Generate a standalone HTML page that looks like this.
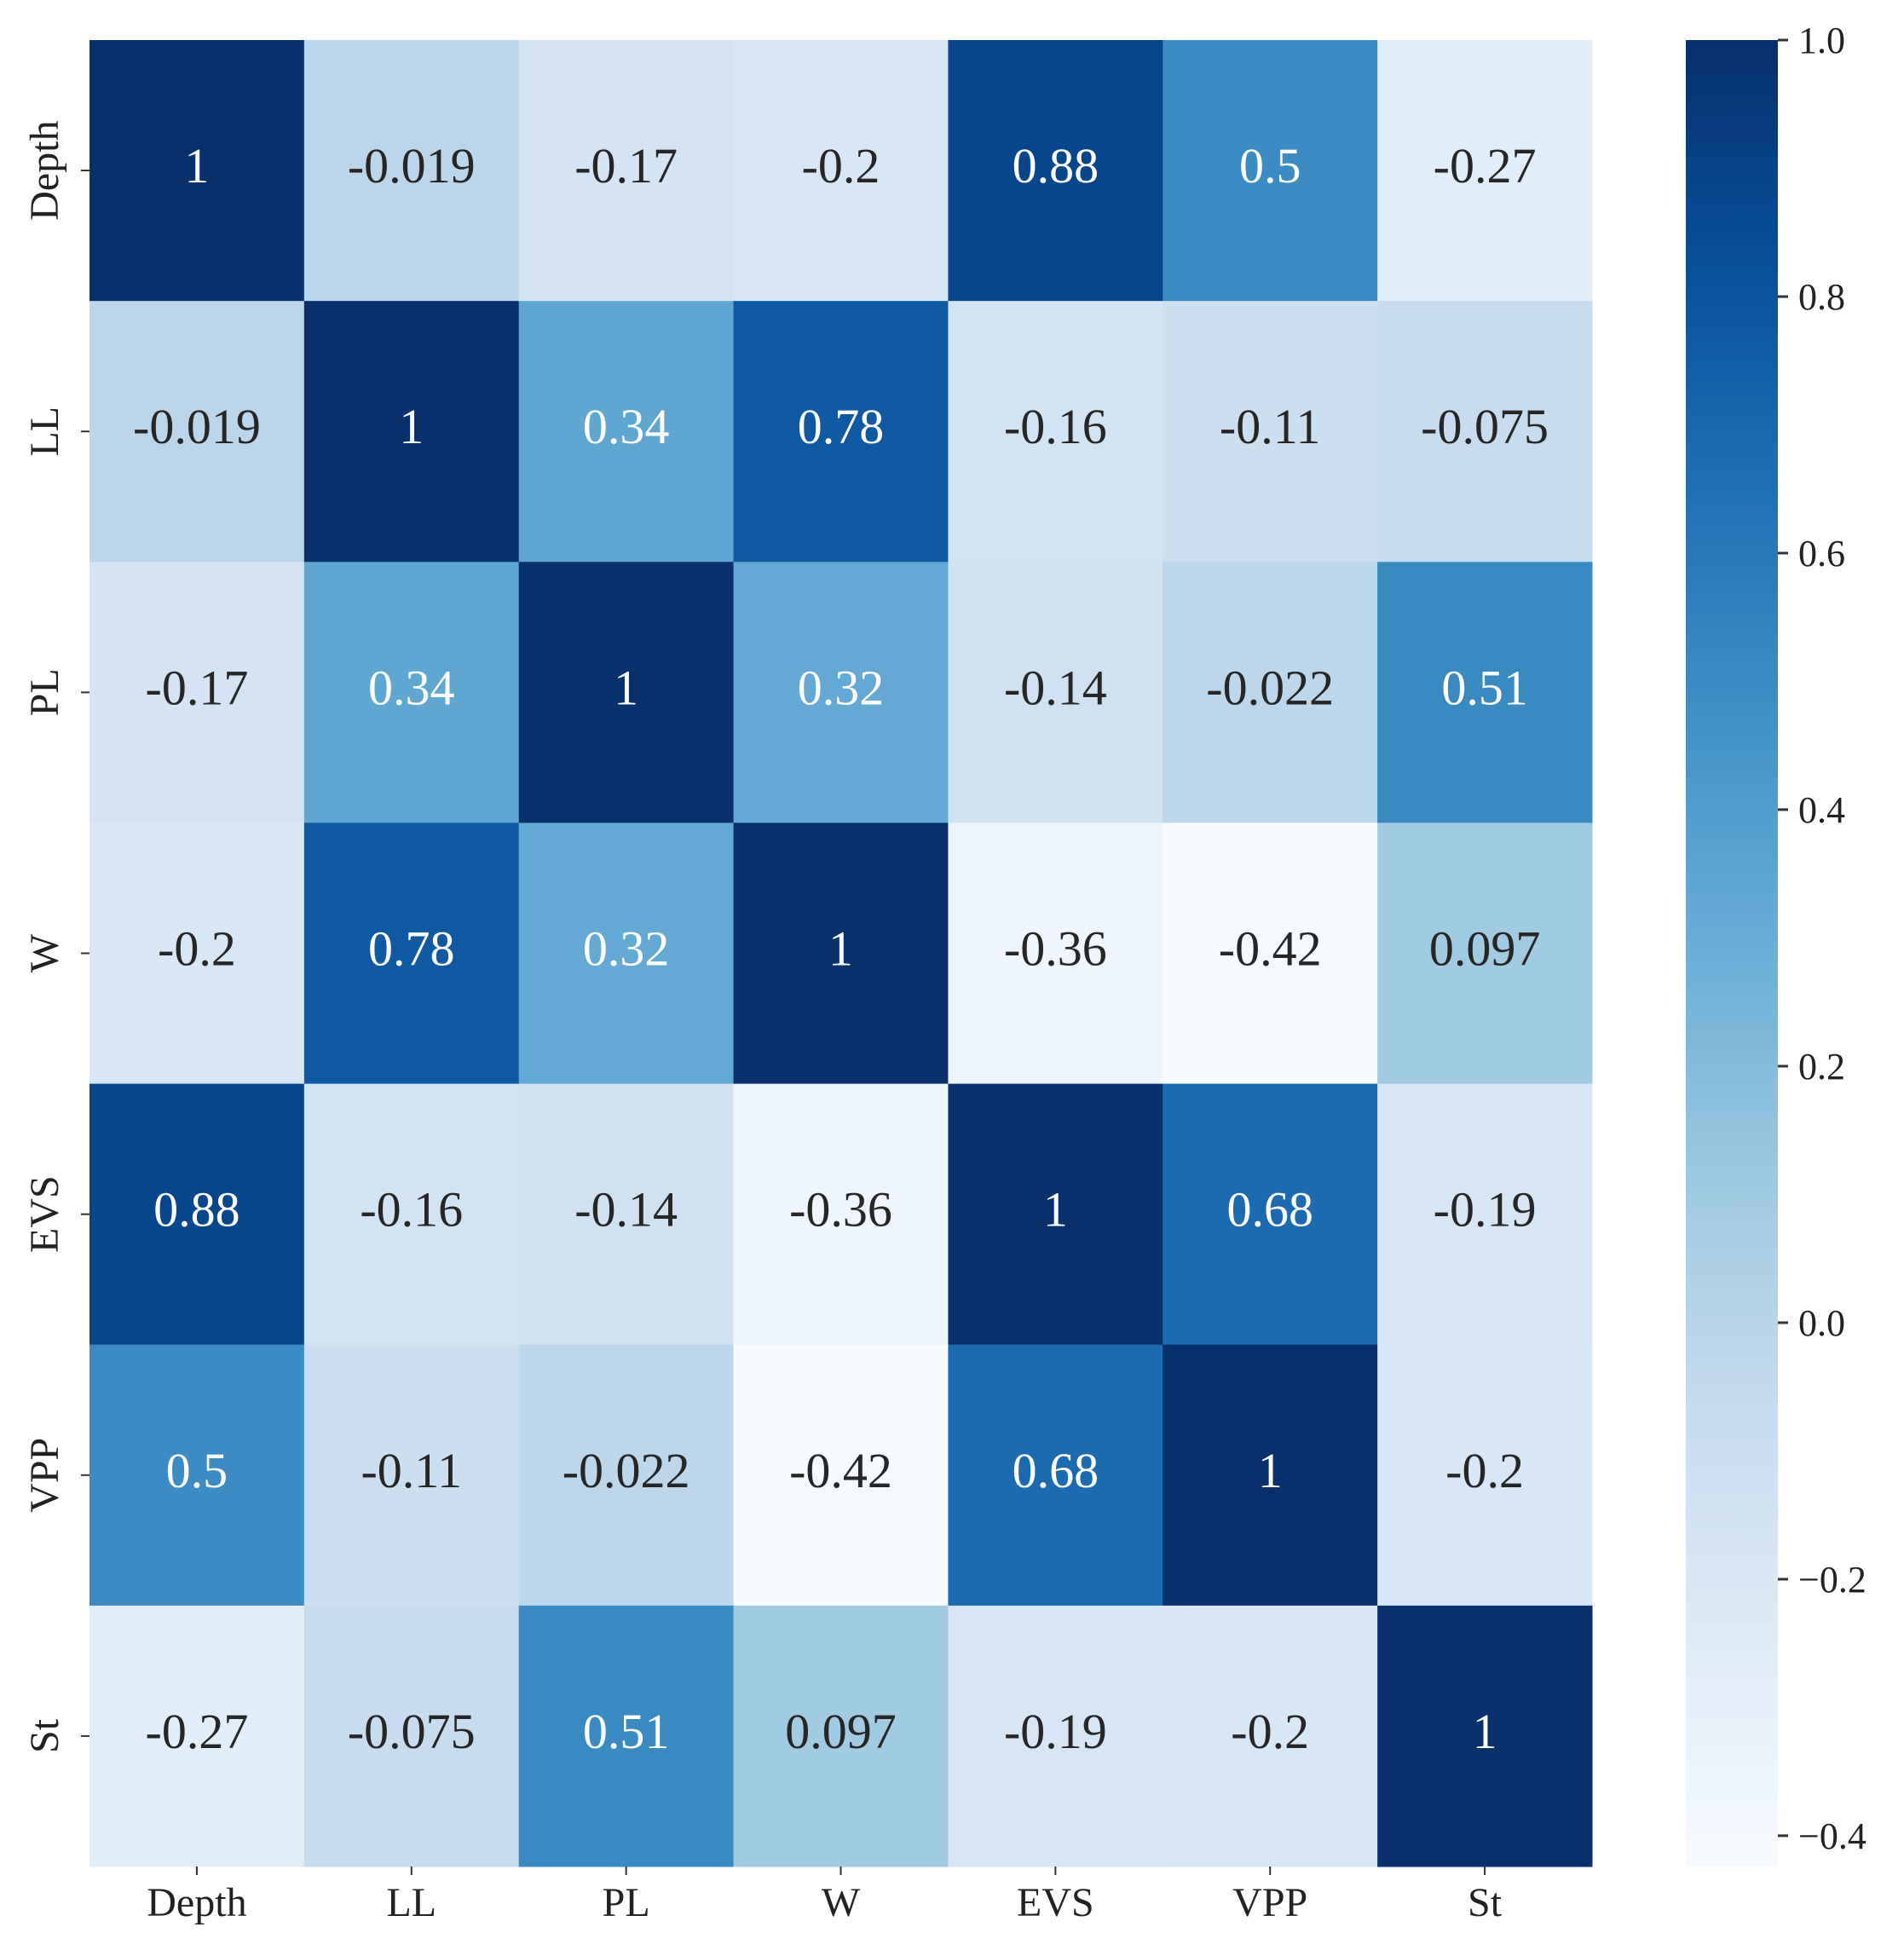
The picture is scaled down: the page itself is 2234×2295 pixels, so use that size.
<!DOCTYPE html>
<html><head><meta charset="utf-8"><style>
html,body{margin:0;padding:0;background:#fff;}
svg{display:block;}
text{font-family:"Liberation Serif",serif;}
</style></head><body>
<svg id="chart" width="2234" height="2295" xmlns="http://www.w3.org/2000/svg">
<defs><linearGradient id="cbgrad" x1="0" y1="1" x2="0" y2="0"></linearGradient></defs>
<g id="cells"></g>
<g id="axes"></g>
<g id="cbar"></g>
</svg>
<script>
const labels = ["Depth","LL","PL","W","EVS","VPP","St"];
const rowDepth = [1,-0.019,-0.17,-0.2,0.88,0.5,-0.27];
const rowLL = [-0.019,1,0.34,0.78,-0.16,-0.11,-0.075];
const rowPL = [-0.17,0.34,1,0.32,-0.14,-0.022,0.51];
const rowW = [-0.2,0.78,0.32,1,-0.36,-0.42,0.097];
const rowEVS = [0.88,-0.16,-0.14,-0.36,1,0.68,-0.19];
const rowVPP = [0.5,-0.11,-0.022,-0.42,0.68,1,-0.2];
const rowSt = [-0.27,-0.075,0.51,0.097,-0.19,-0.2,1];
const cbTicks = [1.0,0.8,0.6,0.4,0.2,0.0,-0.2,-0.4];
const matrix = [rowDepth,rowLL,rowPL,rowW,rowEVS,rowVPP,rowSt];

const NS="http://www.w3.org/2000/svg";
const vmin=-0.424, vmax=1.0;
const L=105,R=1868,T=47,B=2190;
const n=labels.length, cw=(R-L)/n, ch=(B-T)/n;
const stops=["#f7fbff","#deebf7","#c6dbef","#9ecae1","#6baed6","#4292c6","#2171b5","#08519c","#08306b"];
function hex(h){return [1,3,5].map(i=>parseInt(h.substr(i,2),16));}
function color(v){
  let t=Math.max(0,Math.min(1,(v-vmin)/(vmax-vmin)))*(stops.length-1);
  let i=Math.min(stops.length-2,Math.floor(t)), f=t-i;
  let a=hex(stops[i]), b=hex(stops[i+1]);
  return "rgb("+a.map((x,k)=>Math.round(x+(b[k]-x)*f)).join(",")+")";
}
function xPos(j){return L+j*cw;}
function yPos(i){return T+i*ch;}
function el(tag,attrs,parent){const e=document.createElementNS(NS,tag);for(const k in attrs)e.setAttribute(k,attrs[k]);parent.appendChild(e);return e;}
const cells=document.getElementById('cells'), axes=document.getElementById('axes'), cbar=document.getElementById('cbar');
matrix.forEach((row,i)=>row.forEach((v,j)=>{
  const r=el('rect',{x:xPos(j),y:yPos(i),width:cw+0.5,height:ch+0.5,fill:color(v)},cells);
  
  
  const t=el('text',{x:xPos(j)+cw/2,y:yPos(i)+ch/2+14,'text-anchor':'middle','font-size':58,fill:((v-vmin)/(vmax-vmin)>0.5)?'#ffffff':'#262626'},cells);
  t.textContent=String(v);
  
  
}));
labels.forEach((lab,k)=>{
  const cx=xPos(k)+cw/2, cy=yPos(k)+ch/2;
  el('line',{x1:cx,y1:B,x2:cx,y2:B+10,stroke:'#333','stroke-width':2},axes);
  const tx=el('text',{x:cx,y:B+58,'text-anchor':'middle','font-size':48,fill:'#222'},axes);
  tx.textContent=lab;
  
  
  el('line',{x1:L-10,y1:cy,x2:L,y2:cy,stroke:'#333','stroke-width':2},axes);
  const ty=el('text',{x:68,y:cy,'text-anchor':'middle','font-size':48,fill:'#222',transform:'rotate(-90 68 '+cy+')'},axes);
  ty.textContent=lab;
  
  
});
const g=document.getElementById('cbgrad');
for(let k=0;k<=20;k++){const v=vmin+(vmax-vmin)*k/20;el('stop',{offset:(k/20),'stop-color':color(v)},g);}
const CL=1978,CR=2086;
const cb=el('rect',{x:CL,y:T,width:CR-CL,height:B-T,fill:'url(#cbgrad)'},cbar);


function cy(v){return B-(v-vmin)/(vmax-vmin)*(B-T);}
cbTicks.forEach(v=>{
  const y=cy(v);
  el('line',{x1:CR,y1:y,x2:CR+12,y2:y,stroke:'#333','stroke-width':3},cbar);
  const t=el('text',{x:CR+24,y:y+15,'font-size':44,fill:'#222'},cbar);
  t.textContent=(v<0?'\u2212':'')+Math.abs(v).toFixed(1);
  
  
});
</script>
</body></html>
